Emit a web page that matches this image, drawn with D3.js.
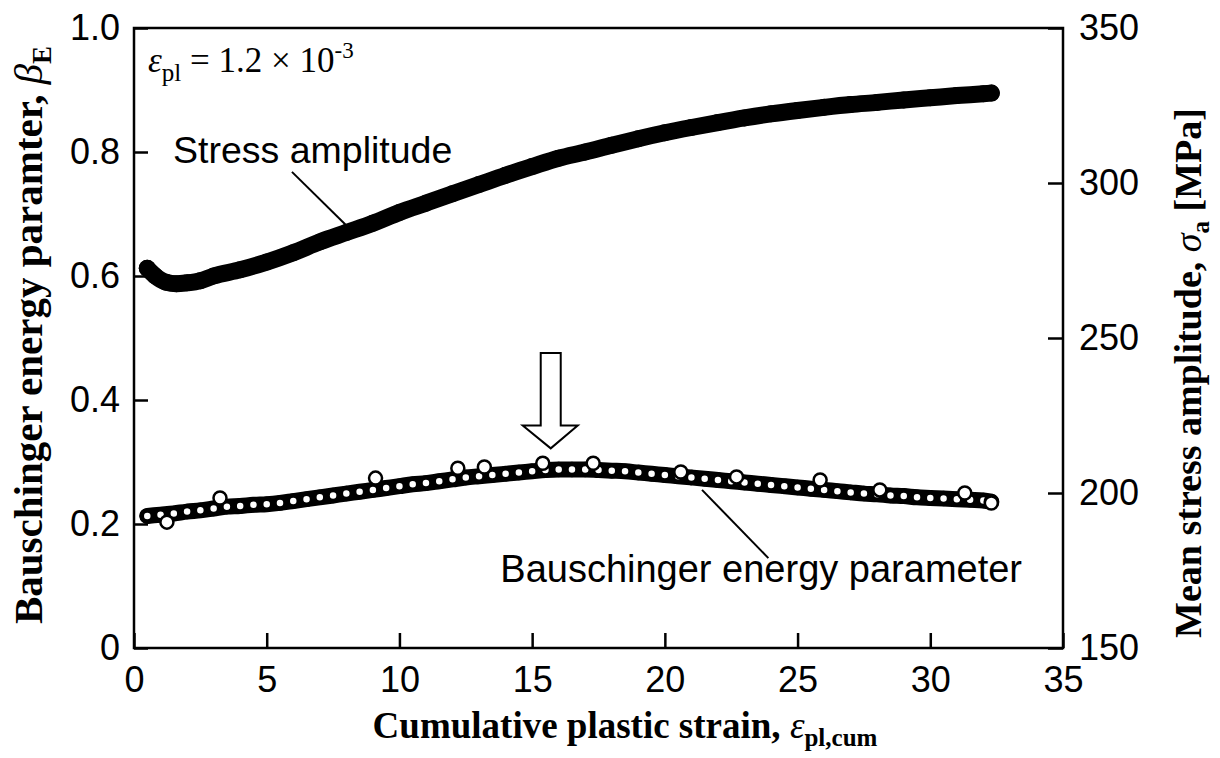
<!DOCTYPE html>
<html>
<head>
<meta charset="utf-8">
<script src="https://cdn.jsdelivr.net/npm/d3@7"></script>
<style>
body { margin: 0; background: #fff; }
</style>
</head>
<body>
<div id="chart-area"></div>
<script>
// stress amplitude (right axis, MPa) vs cumulative plastic strain
var stressX = [0.5, 0.8, 1.2, 1.6, 2, 2.5, 3, 4, 5, 6, 7, 8, 9, 10, 11, 12, 13, 14, 15, 16,
  17, 18, 19, 20, 21, 22, 23, 24, 25, 26, 27, 28, 29, 30, 31, 32, 32.3]
var stressY = [272.5, 270, 268, 267.5, 267.8, 268.5, 270, 272, 274.5, 277.5, 281, 284, 287, 290.5, 293.5, 296.5, 299.5, 302.5, 305.3, 308,
  310, 312.2, 314.3, 316.2, 317.9, 319.5, 321, 322.3, 323.4, 324.4, 325.3, 326, 326.8, 327.5, 328.2, 328.8, 329]

// Bauschinger energy parameter (left axis)
var bauschX = [0.5, 1, 1.5, 2, 2.5, 3, 3.5, 4, 4.5, 5, 5.5, 6, 6.5, 7, 7.5, 8, 8.5, 9, 9.5, 10,
  10.5, 11, 11.5, 12, 12.5, 13, 13.5, 14, 14.5, 15, 15.5, 16, 16.5, 17, 17.5, 18, 18.5, 19, 19.5, 20,
  20.5, 21, 21.5, 22, 22.5, 23, 23.5, 24, 24.5, 25, 25.5, 26, 26.5, 27, 27.5, 28, 28.5, 29, 29.5, 30,
  30.5, 31, 31.5, 32, 32.3]
var bauschY = [0.213, 0.215, 0.217, 0.220, 0.222, 0.225, 0.228, 0.229, 0.231, 0.232, 0.234, 0.237, 0.240, 0.243, 0.246, 0.249, 0.252, 0.255, 0.258, 0.261,
  0.264, 0.266, 0.269, 0.272, 0.275, 0.277, 0.279, 0.281, 0.283, 0.285, 0.287, 0.288, 0.288, 0.288, 0.287, 0.286, 0.285, 0.283, 0.281, 0.279,
  0.277, 0.275, 0.273, 0.271, 0.269, 0.267, 0.265, 0.263, 0.261, 0.259, 0.257, 0.255, 0.253, 0.251, 0.249, 0.248, 0.246, 0.245, 0.243, 0.242,
  0.241, 0.240, 0.239, 0.238, 0.236]
// scattered points that stand out from the band
var scatterX = [1.24, 3.24, 9.1, 12.2, 13.2, 15.4, 17.3, 20.6, 22.7, 25.85, 28.1, 31.3, 32.3]
var scatterY = [0.203, 0.242, 0.274, 0.290, 0.292, 0.298, 0.298, 0.284, 0.276, 0.271, 0.255, 0.250, 0.234]

var xTicks = [0, 5, 10, 15, 20, 25, 30, 35]
var leftTicks = [0, 0.2, 0.4, 0.6, 0.8, 1.0]
var rightTicks = [150, 200, 250, 300, 350]

var margin = {top: 28, right: 157, bottom: 110, left: 134}
var width = 929
var height = 620

var sans = "'Liberation Sans', Arial, sans-serif"
var serif = "'Liberation Serif', 'Times New Roman', serif"

var svg = d3.select("#chart-area").append("svg")
  .attr("width", 1220)
  .attr("height", 758)

var g = svg.append("g")
  .attr("transform", "translate(" + margin.left + ", " + margin.top + ")")

var x = d3.scaleLinear().domain([0, 35]).range([0, width])
var yL = d3.scaleLinear().domain([0, 1]).range([height, 0])
var yR = d3.scaleLinear().domain([150, 350]).range([height, 0])

// axes
var xAxisCall = d3.axisBottom(x).tickValues(xTicks)
  .tickSizeInner(-15).tickSizeOuter(0).tickPadding(18)
var yAxisCall = d3.axisLeft(yL).tickValues(leftTicks)
  .tickFormat(d => d === 0 ? "0" : d3.format(".1f")(d))
  .tickSizeInner(-14).tickSizeOuter(0).tickPadding(14)
var rAxisCall = d3.axisRight(yR).tickValues(rightTicks)
  .tickSizeInner(-15).tickSizeOuter(0).tickPadding(16)

function styleAxis(sel) {
  sel.select(".domain").remove()
  sel.attr("font-size", 36).attr("font-family", sans)
  sel.selectAll("line").attr("stroke", "#000").attr("stroke-width", 2.5)
  sel.selectAll("text").attr("fill", "#000")
}

g.append("g").attr("class", "x axis")
  .attr("transform", "translate(0, " + height + ")")
  .call(xAxisCall).call(styleAxis)

g.append("g").attr("class", "left axis")
  .call(yAxisCall).call(styleAxis)

g.append("g").attr("class", "right axis")
  .attr("transform", "translate(" + width + ", 0)")
  .call(rAxisCall).call(styleAxis)

// frame
g.append("rect")
  .attr("width", width).attr("height", height)
  .attr("fill", "none").attr("stroke", "#000").attr("stroke-width", 2.5)

// stress amplitude series
var stressData = stressX.map((d, i) => ({x: d, y: stressY[i]}))
var stressLine = d3.line().x(d => x(d.x)).y(d => yR(d.y)).curve(d3.curveMonotoneX)

g.append("path").datum(stressData)
  .attr("d", stressLine)
  .attr("fill", "none").attr("stroke", "#000")
  .attr("stroke-width", 17).attr("stroke-linecap", "round")

g.selectAll("circle.stress").data(stressData).enter().append("circle")
  .attr("class", "stress")
  .attr("cx", d => x(d.x)).attr("cy", d => yR(d.y))
  .attr("r", 8.5).attr("fill", "#000")

// Bauschinger energy parameter series
var bauschData = bauschX.map((d, i) => ({x: d, y: bauschY[i]}))
var bauschLine = d3.line().x(d => x(d.x)).y(d => yL(d.y)).curve(d3.curveMonotoneX)

g.append("path").datum(bauschData)
  .attr("d", bauschLine)
  .attr("fill", "none").attr("stroke", "#000")
  .attr("stroke-width", 16).attr("stroke-linecap", "round")

g.selectAll("circle.bausch").data(bauschData).enter().append("circle")
  .attr("class", "bausch")
  .attr("cx", d => x(d.x)).attr("cy", d => yL(d.y))
  .attr("r", 5.5).attr("fill", "#fff")
  .attr("stroke", "#000").attr("stroke-width", 4.5)

var scatterData = scatterX.map((d, i) => ({x: d, y: scatterY[i]}))
g.selectAll("circle.scatter").data(scatterData).enter().append("circle")
  .attr("class", "scatter")
  .attr("cx", d => x(d.x)).attr("cy", d => yL(d.y))
  .attr("r", 6.5).attr("fill", "#fff")
  .attr("stroke", "#000").attr("stroke-width", 2.5)

// labels with leader lines
g.append("text")
  .attr("x", x(1.47)).attr("y", yL(0.782))
  .attr("font-family", sans).attr("font-size", 37.5)
  .text("Stress amplitude")

g.append("line")
  .attr("x1", x(5.95)).attr("y1", yL(0.768))
  .attr("x2", x(8.06)).attr("y2", yL(0.679))
  .attr("stroke", "#000").attr("stroke-width", 2)

g.append("text")
  .attr("x", x(13.8)).attr("y", yL(0.106))
  .attr("font-family", sans).attr("font-size", 38)
  .text("Bauschinger energy parameter")

g.append("line")
  .attr("x1", x(21.4)).attr("y1", yL(0.255))
  .attr("x2", x(23.9)).attr("y2", yL(0.145))
  .attr("stroke", "#000").attr("stroke-width", 2)

// open arrow pointing at the peak
var ax = x(15.7), aTop = yL(0.476), aBase = yL(0.359), aTip = yL(0.322)
g.append("path")
  .attr("d", "M" + (ax - 10) + "," + aTop + "L" + (ax + 10) + "," + aTop +
    "L" + (ax + 10) + "," + aBase + "L" + (ax + 27) + "," + aBase +
    "L" + ax + "," + aTip + "L" + (ax - 28) + "," + aBase +
    "L" + (ax - 10) + "," + aBase + "Z")
  .attr("fill", "#fff").attr("stroke", "#000").attr("stroke-width", 2)

// strain amplitude note
var note = g.append("text")
  .attr("x", x(0.53)).attr("y", yL(0.929))
  .attr("font-family", serif).attr("font-size", 35)
note.append("tspan").attr("font-style", "italic").text("ε")
note.append("tspan").attr("font-size", 25).attr("dy", 9).text("pl")
note.append("tspan").attr("dy", -9).text(" = 1.2 × 10")
note.append("tspan").attr("font-size", 23).attr("dy", -14).text("-3")

// X Label
var xl = svg.append("text")
  .attr("x", 625).attr("y", 738)
  .attr("font-family", serif).attr("font-size", 37)
  .attr("font-weight", "bold").attr("text-anchor", "middle")
xl.append("tspan").text("Cumulative plastic strain, ")
xl.append("tspan").attr("font-style", "italic").attr("font-weight", "normal").text("ε")
xl.append("tspan").attr("font-size", 25).attr("dy", 8).text("pl,cum")

// Y Label (left)
var yl = svg.append("text")
  .attr("transform", "translate(42, 335) rotate(-90)")
  .attr("font-family", serif).attr("font-size", 41)
  .attr("font-weight", "bold").attr("text-anchor", "middle")
yl.append("tspan").text("Bauschinger energy paramter, ")
yl.append("tspan").attr("font-style", "italic").attr("font-weight", "normal").text("β")
yl.append("tspan").attr("font-size", 27).attr("dy", 9).text("E")

// Y Label (right)
var yr = svg.append("text")
  .attr("transform", "translate(1201, 373) rotate(-90)")
  .attr("font-family", serif).attr("font-size", 38)
  .attr("font-weight", "bold").attr("text-anchor", "middle")
yr.append("tspan").text("Mean stress amplitude, ")
yr.append("tspan").attr("font-style", "italic").attr("font-weight", "normal").text("σ")
yr.append("tspan").attr("font-size", 25).attr("dy", 8).text("a")
yr.append("tspan").attr("dy", -8).text(" [MPa]")
</script>
</body>
</html>
